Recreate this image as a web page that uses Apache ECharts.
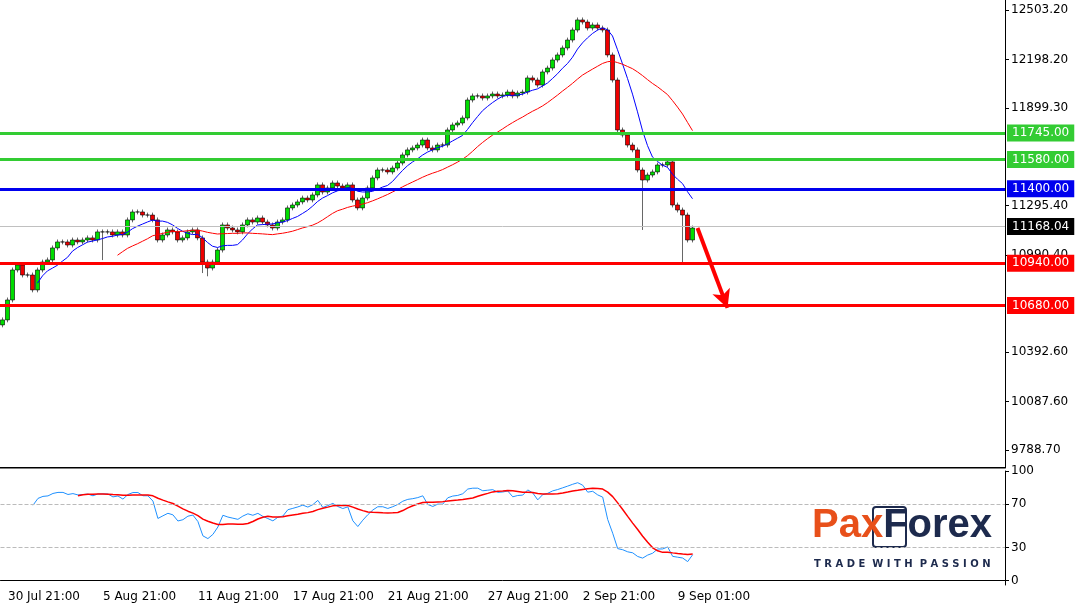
<!DOCTYPE html>
<html><head><meta charset="utf-8">
<script src="https://cdn.jsdelivr.net/npm/echarts@6/dist/echarts.min.js"></script>
<style>html,body{margin:0;padding:0;background:#fff}#c{width:1075px;height:603px}</style>
</head><body><div id="c"></div>
<script>
const closes=[10591,10714,10899,10930,10868,10868,10776,10899,10948,10961,11035,11072,11072,11053,11084,11072,11084,11097,11084,11134,11134,11134,11115,11134,11115,11208,11257,11257,11238,11238,11208,11084,11115,11146,11134,11084,11097,11134,11146,11097,10948,10911,10948,11022,11177,11158,11146,11134,11177,11208,11195,11220,11195,11177,11158,11195,11208,11282,11300,11319,11343,11331,11362,11424,11380,11405,11436,11417,11405,11424,11331,11282,11343,11405,11467,11516,11516,11504,11528,11559,11609,11640,11652,11670,11701,11652,11640,11670,11670,11763,11794,11806,11837,11948,11973,11973,11960,11973,11985,11973,11979,11997,11973,11991,11997,12084,12071,12040,12121,12145,12195,12226,12269,12318,12380,12442,12429,12392,12411,12392,12380,12226,12071,11763,11732,11670,11640,11516,11454,11485,11504,11547,11547,11566,11300,11269,11238,11084,11158];
const firstOpen=10560;
const tickIdx=[1,20,39,58,77,97,116,135];
const tickLabels=['30 Jul 21:00','5 Aug 21:00','11 Aug 21:00','17 Aug 21:00','21 Aug 21:00','27 Aug 21:00','2 Sep 21:00','9 Sep 01:00'];
const priceLabels=[12503.20,12198.20,11899.30,11295.40,10990.40,10392.60,10087.60,9788.70];
const rsiLabels=[0,30,70,100];
const levels=[{v:11745,c:'#33cc33'},{v:11580,c:'#33cc33'},{v:11400,c:'#0000ee'},{v:10940,c:'#ff0000'},{v:10680,c:'#ff0000'}];
const lastPrice=11168.04;
const wickLows={128:11146,136:10940,40:10880,41:10860,20:10960};
const N=201;
const cats=[];for(let i=0;i<N;i++){const k=tickIdx.indexOf(i);cats.push(k>=0?tickLabels[k]:'c'+i);}
const ohlc=closes.map((c,i)=>{const o=i?closes[i-1]:firstOpen;let lo=Math.min(o,c)-15,hi=Math.max(o,c)+15;if(wickLows[i])lo=wickLows[i];return [o,c,lo,hi];});
function sma(a,n){return a.map((v,i)=>{if(i<n-1)return null;let s=0;for(let j=i-n+1;j<=i;j++){if(a[j]==null)return null;s+=a[j];}return +(s/n).toFixed(2);});}
const rsi=[];{let g=0,l=0;const n=14;for(let i=0;i<closes.length;i++){if(i==0){rsi.push(null);continue;}const d=closes[i]-closes[i-1];const up=Math.max(d,0),dn=Math.max(-d,0);if(i<=n){g+=up/n;l+=dn/n;}else{g=(g*(n-1)+up)/n;l=(l*(n-1)+dn)/n;}rsi.push(i<6?null:(l==0?100:100-100/(1+g/l)));}}
const rsiSig=sma(rsi,10);
const font='DejaVu Sans';
const ml=levels.map(L=>({yAxis:L.v,lineStyle:{color:L.c,width:3,type:'solid'},label:{show:true,position:'end',formatter:L.v.toFixed(2),color:'#fff',backgroundColor:L.c,padding:[3,5,2,5],fontFamily:font,fontSize:12,distance:2}}));
ml.push({yAxis:lastPrice,lineStyle:{color:'#c0c0c0',width:1,type:'solid'},label:{show:true,position:'end',formatter:lastPrice.toFixed(2),color:'#fff',backgroundColor:'#000',padding:[3,5,2,5],fontFamily:font,fontSize:12,distance:2}});
ml.push([{coord:['c139',11158],symbol:'none',lineStyle:{color:'#ff0000',width:4,type:'solid'}},{coord:['c145',10665],symbol:'arrow',symbolSize:[14,18]}]);
const chart=echarts.init(document.getElementById('c'));
chart.setOption({animation:false,
grid:[{left:0,right:70,top:0,height:468},{left:0,right:70,top:471,bottom:13}],
xAxis:[{type:'category',data:cats,gridIndex:0,boundaryGap:true,axisLine:{show:false},axisTick:{show:false},axisLabel:{show:false},splitLine:{show:false}},
{type:'category',data:cats,gridIndex:1,boundaryGap:true,axisLine:{show:true,lineStyle:{color:'#000'}},axisTick:{show:false},axisLabel:{interval:0,formatter:v=>v[0]=='c'?'':v,align:'left',fontFamily:font,fontSize:12,color:'#000',margin:6},splitLine:{show:false}}],
yAxis:[{type:'value',gridIndex:0,position:'right',min:9677,max:12565,axisLine:{show:true,lineStyle:{color:'#000'}},axisTick:{show:true,customValues:priceLabels,length:4,lineStyle:{color:'#000'}},axisLabel:{customValues:priceLabels,formatter:v=>v.toFixed(2),fontFamily:font,fontSize:12,color:'#000',margin:6},splitLine:{show:false}},
{type:'value',gridIndex:1,position:'right',min:-4,max:100,axisLine:{show:true,lineStyle:{color:'#000'}},axisTick:{show:true,customValues:rsiLabels,length:4},axisLabel:{customValues:rsiLabels,fontFamily:font,fontSize:12,color:'#000',margin:6},splitLine:{show:false}}],
series:[
{type:'candlestick',xAxisIndex:0,yAxisIndex:0,data:ohlc,barWidth:4,itemStyle:{color:'#00dd00',color0:'#ee0000',borderColor:'#000',borderColor0:'#000',borderWidth:0.6},markLine:{silent:true,symbol:'none',data:ml}},
{type:'line',xAxisIndex:0,yAxisIndex:0,data:sma(closes,8),showSymbol:false,lineStyle:{color:'#0000ff',width:1}},
{type:'line',xAxisIndex:0,yAxisIndex:0,data:sma(closes,24),showSymbol:false,lineStyle:{color:'#ff0000',width:1}},
{type:'line',xAxisIndex:1,yAxisIndex:1,data:rsi,showSymbol:false,lineStyle:{color:'#1e90ff',width:1},markLine:{silent:true,symbol:'none',label:{show:false},data:[{yAxis:70},{yAxis:30}],lineStyle:{color:'#bbb',type:'dashed',width:1}}},
{type:'line',xAxisIndex:1,yAxisIndex:1,data:rsiSig,showSymbol:false,lineStyle:{color:'#ff0000',width:1.5}}
],
graphic:[
{type:'rect',shape:{x:0,y:467,width:1005,height:1.5},style:{fill:'#000'}},
{type:'rect',shape:{x:873,y:507,width:33,height:40,r:3},style:{fill:'none',stroke:'#1d2a4d',lineWidth:2}},
{type:'text',x:812,y:506,style:{text:'{a|Pa}{a|x}{b|Forex}',rich:{a:{fill:'#e8501a',fontSize:40,fontWeight:'bold',fontFamily:'Liberation Sans'},b:{fill:'#1d2a4d',fontSize:40,fontWeight:'bold',fontFamily:'Liberation Sans'}}}},
{type:'text',x:814,y:559,style:{text:'T R A D E  W I T H  P A S S I O N',fill:'#1d2a4d',fontSize:10,fontWeight:'bold',fontFamily:'DejaVu Sans'}}
]});
</script></body></html>
